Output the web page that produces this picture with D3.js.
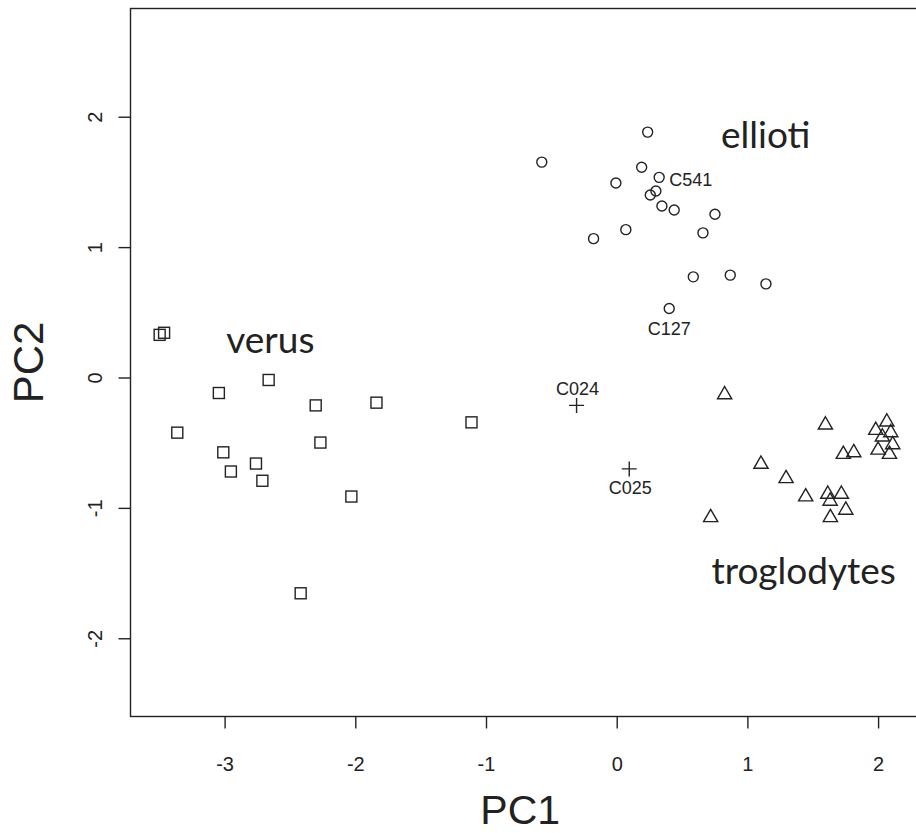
<!DOCTYPE html>
<html>
<head>
<meta charset="utf-8">
<script src="https://cdn.jsdelivr.net/npm/d3@7"></script>
<style>
  html, body { margin: 0; padding: 0; background: #fff; }
  svg { display: block; }
</style>
</head>
<body>
<svg id="chart" width="916" height="833"></svg>
<script>
// ---- Data ----
const verusPC1 = [-3.497, -3.463, -2.663, -3.044, -2.303, -1.838, -3.362, -2.267, -3.010, -2.760, -2.952, -2.711, -2.030, -1.111, -2.418];
const verusPC2 = [0.327, 0.343, -0.019, -0.119, -0.214, -0.193, -0.423, -0.499, -0.574, -0.660, -0.721, -0.792, -0.913, -0.344, -1.655];

const elliotiPC1 = [0.237, -0.573, 0.191, 0.325, -0.006, 0.300, 0.257, 0.346, 0.440, 0.752, 0.660, 0.070, -0.177, 0.586, 0.869, 1.142, 0.402];
const elliotiPC2 = [1.882, 1.652, 1.612, 1.535, 1.492, 1.430, 1.400, 1.315, 1.285, 1.252, 1.109, 1.134, 1.065, 0.772, 0.785, 0.718, 0.529];

const troglodytesPC1 = [0.826, 1.597, 2.067, 1.982, 2.097, 2.033, 2.112, 2.000, 2.087, 1.734, 1.814, 1.104, 1.296, 1.446, 1.615, 1.719, 1.633, 1.753, 1.635, 0.719];
const troglodytesPC2 = [-0.132, -0.364, -0.341, -0.405, -0.423, -0.456, -0.515, -0.556, -0.589, -0.589, -0.576, -0.665, -0.775, -0.915, -0.895, -0.895, -0.948, -1.017, -1.074, -1.074];

const unknownNames = ["C024", "C025"];
const unknownPC1 = [-0.307, 0.096];
const unknownPC2 = [-0.214, -0.701];

const labelledNames = ["C541", "C127"];
const labelledPC1 = [0.325, 0.402];
const labelledPC2 = [1.535, 0.529];

const groupNames = ["verus", "ellioti", "troglodytes"];
const groupLabelPC1 = [-2.65, 1.14, 1.43];
const groupLabelPC2 = [0.19, 1.76, -1.58];

const xTicks = [-3, -2, -1, 0, 1, 2];
const yTicks = [-2, -1, 0, 1, 2];
const xTitle = "PC1";
const yTitle = "PC2";

// ---- Layout ----
const svg = d3.select("#chart");
const ink = "#222";
const pLeft = 130.5, pRight = 922, pTop = 8.5, pBottom = 716.5;
const arial = "'Liberation Sans', Arial, sans-serif";

const x = d3.scaleLinear().domain([-3.72, 2.336]).range([pLeft, pRight]);
const y = d3.scaleLinear().domain([-2.6, 2.83]).range([pBottom, pTop]);

// frame
svg.append("rect")
  .attr("x", pLeft).attr("y", pTop)
  .attr("width", pRight - pLeft).attr("height", pBottom - pTop)
  .attr("fill", "none").attr("stroke", ink).attr("stroke-width", 1.4);

// x axis
const gx = svg.append("g")
  .attr("transform", `translate(0,${pBottom})`)
  .call(d3.axisBottom(x).tickValues(xTicks).tickSize(12).tickFormat(d3.format("d")));
gx.select(".domain").remove();
gx.selectAll("line").attr("stroke", ink).attr("stroke-width", 1.4);
gx.selectAll("text").attr("fill", ink)
  .attr("y", 54).attr("dy", null)
  .attr("font-family", arial).attr("font-size", 20)
  .text(d => d < 0 ? "-" + Math.abs(d) : d);

// y axis
const gy = svg.append("g")
  .attr("transform", `translate(${pLeft},0)`)
  .call(d3.axisLeft(y).tickValues(yTicks).tickSize(12).tickFormat(d3.format("d")));
gy.select(".domain").remove();
gy.selectAll("line").attr("stroke", ink).attr("stroke-width", 1.4);
gy.selectAll("text")
  .attr("fill", ink)
  .attr("font-family", arial).attr("font-size", 20)
  .attr("x", null).attr("dy", null)
  .attr("text-anchor", "middle")
  .attr("transform", "translate(-29,0) rotate(-90)")
  .text(d => d < 0 ? "-" + Math.abs(d) : d);

// axis titles
svg.append("text")
  .attr("x", (pLeft + pRight) / 2 - 6).attr("y", 824)
  .attr("text-anchor", "middle").attr("fill", ink)
  .attr("font-family", arial).attr("font-size", 41)
  .text(xTitle);
svg.append("text")
  .attr("transform", `translate(43,${(pTop + pBottom) / 2}) rotate(-90)`)
  .attr("text-anchor", "middle").attr("fill", ink)
  .attr("font-family", arial).attr("font-size", 42)
  .text(yTitle);

const plot = svg.append("g").attr("fill", "none").attr("stroke", ink).attr("stroke-width", 1.4);

// verus: squares
const sq = 11;
plot.selectAll("rect.sq").data(d3.range(verusPC1.length)).join("rect").attr("class", "sq")
  .attr("x", i => x(verusPC1[i]) - sq / 2)
  .attr("y", i => y(verusPC2[i]) - sq / 2)
  .attr("width", sq).attr("height", sq);

// ellioti: circles
plot.selectAll("circle.ci").data(d3.range(elliotiPC1.length)).join("circle").attr("class", "ci")
  .attr("cx", i => x(elliotiPC1[i]))
  .attr("cy", i => y(elliotiPC2[i]))
  .attr("r", 5);

// troglodytes: triangles
const triR = 8.2, triHW = 7.1;
plot.selectAll("path.tr").data(d3.range(troglodytesPC1.length)).join("path").attr("class", "tr")
  .attr("d", i => {
    const cx = x(troglodytesPC1[i]), cy = y(troglodytesPC2[i]);
    return `M${cx},${cy - triR}L${cx + triHW},${cy + triR / 2}L${cx - triHW},${cy + triR / 2}Z`;
  });

// unknowns: crosses
const cr = 7.5;
plot.selectAll("path.cr").data(d3.range(unknownPC1.length)).join("path").attr("class", "cr")
  .attr("d", i => {
    const cx = x(unknownPC1[i]), cy = y(unknownPC2[i]);
    return `M${cx - cr},${cy}H${cx + cr}M${cx},${cy - cr}V${cy + cr}`;
  });

// point labels
svg.selectAll("text.ul").data(d3.range(unknownNames.length)).join("text").attr("class", "ul")
  .attr("x", i => x(unknownPC1[i]) + 1)
  .attr("y", i => y(unknownPC2[i]) + (i === 0 ? -10.5 : 25))
  .attr("text-anchor", "middle").attr("fill", ink)
  .attr("font-family", arial).attr("font-size", 18)
  .text(i => unknownNames[i]);
svg.selectAll("text.ll").data(d3.range(labelledNames.length)).join("text").attr("class", "ll")
  .attr("x", i => x(labelledPC1[i]) + (i === 0 ? 10 : 0))
  .attr("y", i => y(labelledPC2[i]) + (i === 0 ? 8.5 : 26))
  .attr("text-anchor", i => i === 0 ? "start" : "middle").attr("fill", ink)
  .attr("font-family", arial).attr("font-size", 18)
  .text(i => labelledNames[i]);

// group labels
svg.selectAll("text.gl").data(d3.range(groupNames.length)).join("text").attr("class", "gl")
  .attr("x", i => x(groupLabelPC1[i]))
  .attr("y", i => y(groupLabelPC2[i]))
  .attr("text-anchor", "middle").attr("fill", ink)
  .attr("font-family", "Lato, 'Open Sans', sans-serif").attr("font-size", 37)
  .text(i => groupNames[i]);
</script>
</body>
</html>
